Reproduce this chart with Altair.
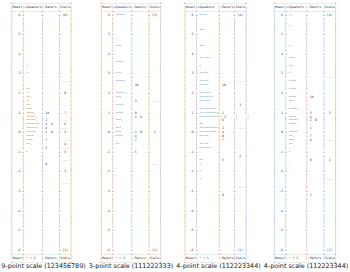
import altair as alt
import pandas as pd

titles = ["9-point scale (123456789)", "3-point scale (111222333)",
          "4-point scale (112223344)", "4-point scale (112223344)"]
star_unit = ["2", "2", "1", "2"]
speaker_width = [9, 9, 11, 10]

# ---- panel 1: 9-point scale ----
p1_spk_m = [3.4, 3.0, 2.6, 2.2, 2.0, 1.8, 1.6, 1.4, 1.2, 1.0, 0.8, 0.6, 0.4, 0.2, 0.0, -0.2, -0.4, -0.6, -1.0]
p1_spk_s = ["*", "*", ".", "**", "*", "**.", "*.", "**", "***", "****.", "*****.", "*****.", "*******",
            "******", "*****", "****", "***.", "**.", "*"]
p1_rat_m = [1.0, 0.6, 0.4, 0.2, 0.0, -0.4, -0.8, -1.6]
p1_rat_l = ["10", "2", "3  6", "4", "1  8", "7", "5", "9"]
p1_scl_m = [6.0, 2.6, 2.0, 1.4, 1.0, 0.6, 0.4, 0.2, 0.0, -0.4, -0.6, -0.8, -1.0, -1.4, -2.0, -2.6, -6.0]
p1_scl_l = ["(9)", "---", "8", "---", "7", "---", "6", "---", "5", "---", "4", "---", "3", "---", "2", "---", "(1)"]

# ---- panel 2: 3-point scale ----
p2_spk_m = [6.0, 4.8, 4.4, 3.6, 3.0, 2.6, 2.0, 1.8, 1.4, 1.0, 0.6, 0.2, 0.0, -0.2, -0.6, -1.8, -2.2]
p2_spk_s = ["*****", ".", "***", "****.", "***", "*****", "*****.", "***", "****.", "****", "***.", "***.",
            "***", "****.", "**", ".", "."]
p2_rat_m = [2.4, 1.6, 1.0, 0.8, 0.0, -0.2, -0.4, -1.0]
p2_rat_l = ["10", "3", "9", "2  6", "1  8", "4", "7", "5"]
p2_scl_m = [6.0, 1.6, 0.0, -1.6, -6.0]
p2_scl_l = ["(3)", "---", "2", "---", "(1)"]

# ---- panel 3: 4-point scale ----
p3_spk_m = [6.0, 5.2, 4.4, 3.8, 3.4, 3.0, 2.6, 2.4, 2.0, 1.8, 1.6, 1.2, 1.0, 0.8, 0.4, 0.2, 0.0,
            -0.2, -0.6, -0.8, -1.4, -1.6, -2.0, -2.4]
p3_spk_s = ["****", "***", "***", "******", "*", "*****", "*****", "*****", "******", "*******", "******",
            "*********", "**********", "***********", "**", "**********", "*********",
            "*****", "*****", "******", "**", "*", "*", "*"]
p3_rat_m = [2.4, 1.0, 0.8, 0.6, 0.2, 0.0, -0.2, -0.4, -1.4, -3.2]
p3_rat_l = ["10", "1", "3", "6", "2", "4", "8", "7", "5", "9"]
p3_scl_m = [6.0, 2.6, 1.4, 0.2, -1.2, -2.8, -6.0]
p3_scl_l = ["(4)", "---", "3", "---", "2", "---", "(1)"]

# ---- panel 4: 4-point scale ----
p4_spk_m = [6.0, 5.4, 4.4, 3.8, 3.4, 3.0, 2.6, 2.2, 1.8, 1.6, 1.2, 0.8, 0.6, 0.4, 0.0,
            -0.2, -0.4, -0.6, -0.8, -1.0, -1.4, -1.6, -1.8]
p4_spk_s = ["*.", "*.", "*.", "***.", "**.", "*", "****", "****.", "****", "***", "*****.", "****", "*****",
            "****.", "*****", "**.", "***", "**", ".", "*", ".", ".", "."]
p4_rat_m = [1.8, 1.0, 0.8, 0.6, 0.2, -0.2, -0.4, -1.4, -3.2]
p4_rat_l = ["10", "3", "6", "2  8", "1", "7", "4", "9", "5"]
p4_scl_m = [6.0, 2.8, 1.0, -0.4, -1.4, -2.4, -6.0]
p4_scl_l = ["(4)", "---", "3", "---", "2", "---", "(1)"]

panels_data = [
    (p1_spk_m, p1_spk_s, p1_rat_m, p1_rat_l, p1_scl_m, p1_scl_l),
    (p2_spk_m, p2_spk_s, p2_rat_m, p2_rat_l, p2_scl_m, p2_scl_l),
    (p3_spk_m, p3_spk_s, p3_rat_m, p3_rat_l, p3_scl_m, p3_scl_l),
    (p4_spk_m, p4_spk_s, p4_rat_m, p4_rat_l, p4_scl_m, p4_scl_l),
]

NB = "\u00a0"
CHARS = 45.3  # characters across one panel
lead_shift = [1.0, 0.0, 1.5, 0.5]


def key(v):
    return int(round(v * 5))


def build_lines(data, w_spk, unit):
    spk_m, spk_s, rat_m, rat_l, scl_m, scl_l = data
    w_rat = 7 if w_spk == 11 else 8
    widths = [5, w_spk, w_rat, 5]
    spk = {key(m): s for m, s in zip(spk_m, spk_s)}
    rat = {key(m): s for m, s in zip(rat_m, rat_l)}
    scl = {key(m): s for m, s in zip(scl_m, scl_l)}
    total = sum(widths) + 5
    dash = "|" + "+".join("-" * w for w in widths) + "|"
    rat_head = "-Raters" if w_rat == 7 else "-Raters "
    head = "|Measr|" + "+Speakers".ljust(w_spk) + "|" + rat_head + "|Scale|"
    foot = "|Measr|" + (" * = " + unit).ljust(w_spk) + "|" + rat_head + "|Scale|"
    lines = ["+" + "-" * (total - 2) + "+", head, dash]
    for k in range(30, -31, -1):
        integer = (k % 5 == 0)
        sep = "+" if integer else "|"
        lab = f"{k // 5:>4} " if integer else " " * 5
        cells = [lab,
                 (" " + spk.get(k, "")).ljust(w_spk),
                 (" " + rat.get(k, "")).ljust(w_rat),
                 scl.get(k, "").center(5)]
        lines.append("|" + sep.join(cells) + "|")
    lines += [dash, foot, "+" + "-" * (total - 2) + "+"]
    return [ln.replace(" ", NB) for ln in lines], total


charts = []
for i, data in enumerate(panels_data):
    lines, total = build_lines(data, speaker_width[i], star_unit[i])
    lead = (CHARS - total) / 2 - lead_shift[i]
    df = pd.DataFrame({"row": list(range(len(lines))), "txt": lines, "start": 0})
    ch = alt.Chart(df).mark_text(
        font="DejaVu Sans Mono", fontSize=3.2, align="left", baseline="middle", color="#333"
    ).encode(
        x=alt.X("start:Q", scale=alt.Scale(domain=[-lead, CHARS - lead]), axis=None),
        y=alt.Y("row:Q", scale=alt.Scale(domain=[-0.56, 66.44], reverse=True, nice=False, zero=False), axis=None),
        text="txt:N",
    ).properties(
        width=87.5, height=264,
        title=alt.TitleParams(titles[i], orient="bottom", fontSize=6.4, font="DejaVu Sans",
                              fontWeight="normal", color="#222", offset=0),
    )
    charts.append(ch)

chart = alt.hconcat(*charts, spacing=0).properties(padding=0).configure_view(stroke=None)
chart.save("out.html", embed_options={"renderer": "svg", "actions": False})
